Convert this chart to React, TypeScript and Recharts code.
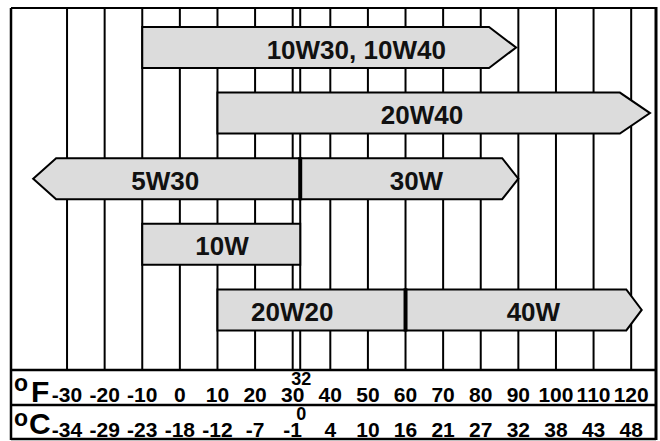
import React from 'react';
import { ComposedChart, Bar, XAxis, YAxis, CartesianGrid } from 'recharts';

// ---- data ----
const rowIds = ['r1', 'r2', 'r3', 'r4', 'r5'];

// first segment of each row
const gradeA = ['10W30, 10W40', '20W40', '5W30', '10W', '20W20'];
const startA = [-10, 10, -39, -10, 10];
const endA = [89.4, 125, 32, 32, 60];
const shoulderA: (number | null)[] = [82.2, 117, -32.9, null, null];
const arrowA: (string | null)[] = ['right', 'right', 'left', null, null];
const labelAtA = [46.9, 64.4, -3.9, 11.2, 29.9];

// second (adjoining) segment of each row
const gradeB: (string | null)[] = [null, null, '30W', null, '40W'];
const startB: (number | null)[] = [null, null, 32, null, 60];
const endB: (number | null)[] = [null, null, 90, null, 122.8];
const shoulderB: (number | null)[] = [null, null, 85.7, null, 118.7];
const arrowB: (string | null)[] = [null, null, 'right', null, 'right'];
const labelAtB: (number | null)[] = [null, null, 62.9, null, 94];

// temperature scale
const fTicks = [-30, -20, -10, 0, 10, 20, 30, 40, 50, 60, 70, 80, 90, 100, 110, 120];
const cLabels = ['-34', '-29', '-23', '-18', '-12', '-7', '-1', '4', '10', '16', '21', '27', '32', '38', '43', '48'];
const freezeF = 32;
const freezeC = '0';
const fDomain = [-44.9, 126.6];

const data = rowIds.map((row, i) => ({
  row,
  i,
  a: [startA[i], endA[i]],
  b: startB[i] == null ? null : [startB[i] as number, endB[i] as number],
}));

// ---- styling ----
const FONT = '"Liberation Sans", Arial, Helvetica, sans-serif';
const W = 660;
const H = 441;
const M = { top: 8, right: 4, bottom: 1, left: 11 };
const AXIS_H = 70;
const FILL = '#dcdcdc';

function Segment(props: any) {
  const { x, y, width, height, payload, which } = props;
  if (x == null || width == null || !payload) return null;
  const i = payload.i;
  const isB = which === 'b';
  const s = isB ? startB[i] : startA[i];
  const e = isB ? endB[i] : endA[i];
  if (s == null || e == null) return null;
  const sh = isB ? shoulderB[i] : shoulderA[i];
  const dir = isB ? arrowB[i] : arrowA[i];
  const text = isB ? gradeB[i] : gradeA[i];
  const lab = isB ? labelAtB[i] : labelAtA[i];
  const px = (v: number) => x + ((v - (s as number)) / ((e as number) - (s as number))) * width;
  const x0 = x;
  const x1 = x + width;
  const yc = y + height / 2;
  let pts: string;
  if (dir === 'right' && sh != null) {
    const xs = px(sh);
    pts = `${x0},${y} ${xs},${y} ${x1},${yc} ${xs},${y + height} ${x0},${y + height}`;
  } else if (dir === 'left' && sh != null) {
    const xs = px(sh);
    pts = `${x0},${yc} ${xs},${y} ${x1},${y} ${x1},${y + height} ${xs},${y + height}`;
  } else {
    pts = `${x0},${y} ${x1},${y} ${x1},${y + height} ${x0},${y + height}`;
  }
  return (
    <g>
      <polygon points={pts} fill={FILL} stroke="#000" strokeWidth={2} strokeLinejoin="miter" />
      {isB && <line x1={x0} x2={x0} y1={y - 1} y2={y + height + 1} stroke="#000" strokeWidth={4} />}
      {text != null && lab != null && (
        <text
          x={px(lab)}
          y={yc + 11}
          textAnchor="middle"
          fontFamily={FONT}
          fontWeight="bold"
          fontSize={26}
          fill="#111"
        >
          {text}
        </text>
      )}
    </g>
  );
}

function TempTick(props: any) {
  const { x, y, payload } = props;
  const v = payload.value;
  const common = {
    textAnchor: 'middle' as const,
    fontFamily: FONT,
    fontWeight: 'bold' as const,
    fill: '#000',
  };
  if (v === freezeF) {
    return (
      <g>
        <text x={x + 1} y={y + 15} fontSize={18} {...common}>{String(freezeF)}</text>
        <text x={x + 1} y={y + 50} fontSize={18} {...common}>{freezeC}</text>
      </g>
    );
  }
  const idx = fTicks.indexOf(v);
  return (
    <g>
      <text x={x} y={y + 31.5} fontSize={21} {...common}>{String(v)}</text>
      <text x={x} y={y + 67} fontSize={21} {...common}>{cLabels[idx]}</text>
    </g>
  );
}

function Frame() {
  const left = M.left;
  const right = W - M.right;
  const top = M.top;
  const plotBottom = H - M.bottom - AXIS_H;
  const bottom = H - M.bottom;
  const mid = plotBottom + AXIS_H / 2;
  const t = { fontFamily: FONT, fontWeight: 'bold' as const, fill: '#000' };
  return (
    <g>
      <line x1={left} x2={right} y1={top} y2={top} stroke="#000" strokeWidth={2} />
      <line x1={left} x2={right} y1={bottom - 1} y2={bottom - 1} stroke="#000" strokeWidth={2.5} />
      <line x1={left} x2={left} y1={top} y2={bottom} stroke="#000" strokeWidth={2.5} />
      <line x1={right} x2={right} y1={top - 1} y2={bottom} stroke="#000" strokeWidth={3} />
      <line x1={left} x2={right} y1={plotBottom} y2={plotBottom} stroke="#000" strokeWidth={2.5} />
      <line x1={left} x2={right} y1={mid} y2={mid} stroke="#000" strokeWidth={2.5} />
      <text x={14} y={391} fontSize={23} {...t}>o</text>
      <text x={31} y={402} fontSize={30} {...t}>F</text>
      <text x={14} y={426} fontSize={23} {...t}>o</text>
      <text x={29} y={434} fontSize={30} {...t}>C</text>
    </g>
  );
}

export default function App() {
  return (
    <div style={{ position: 'fixed', left: 0, top: 0, width: W, height: H, background: '#fff' }}>
      <ComposedChart width={W} height={H} data={data} layout="vertical" margin={M}>
        <CartesianGrid
          horizontal={false}
          vertical={true}
          stroke="#000"
          strokeWidth={2}
          strokeOpacity={1}
          yAxisId="a"
        />
        <XAxis
          type="number"
          domain={fDomain}
          allowDataOverflow
          ticks={[...fTicks, freezeF]}
          interval={0}
          tickLine={false}
          axisLine={false}
          tickSize={0}
          tickMargin={0}
          height={AXIS_H}
          tick={<TempTick />}
        />
        <YAxis yAxisId="a" type="category" dataKey="row" hide padding={{ top: 7, bottom: 27 }} />
        <YAxis yAxisId="b" type="category" dataKey="row" hide padding={{ top: 7, bottom: 27 }} />
        <Bar
          yAxisId="a"
          dataKey="a"
          barSize={41}
          isAnimationActive={false}
          shape={(p: any) => <Segment {...p} which="a" />}
        />
        <Bar
          yAxisId="b"
          dataKey="b"
          barSize={41}
          isAnimationActive={false}
          shape={(p: any) => <Segment {...p} which="b" />}
        />
        <Frame />
      </ComposedChart>
    </div>
  );
}
